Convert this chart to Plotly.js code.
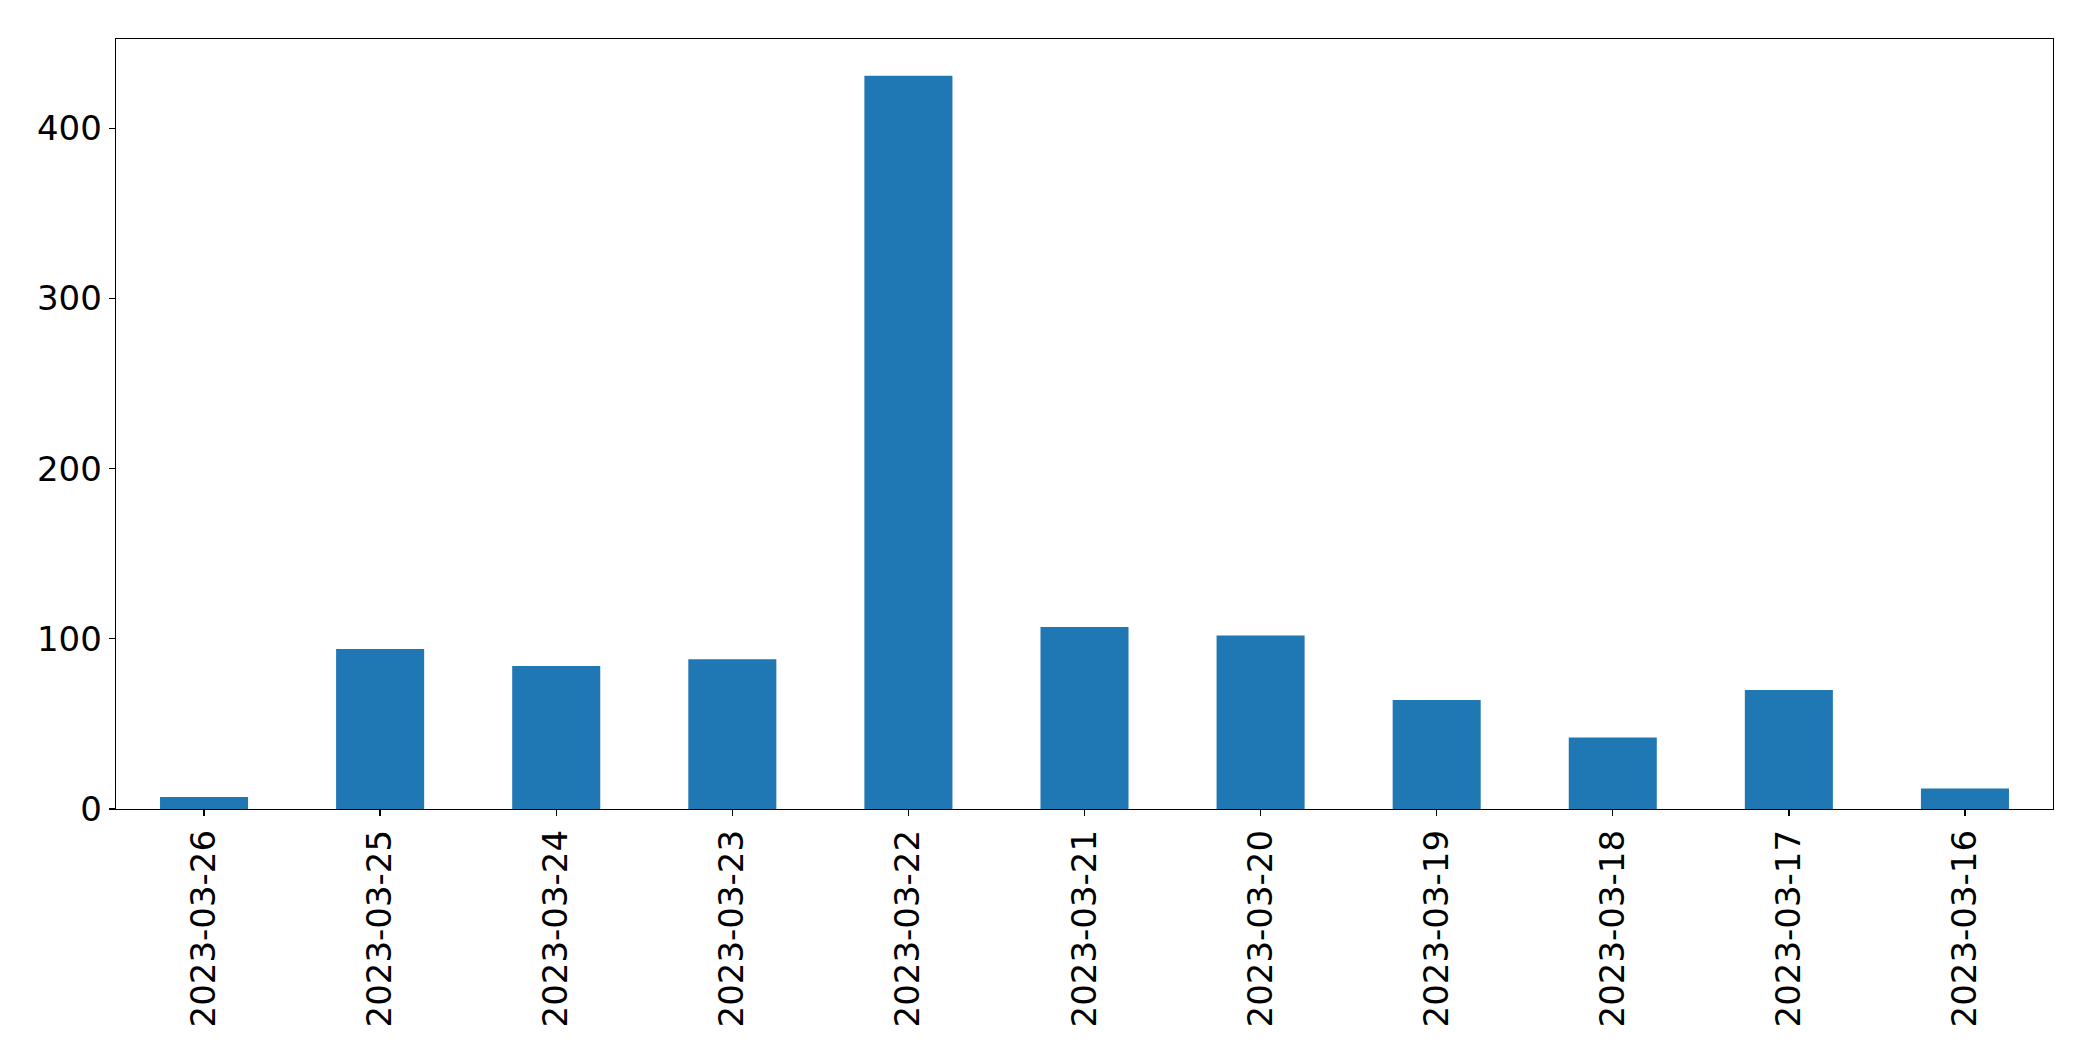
<!DOCTYPE html>
<html>
<head>
<meta charset="utf-8">
<script src="https://cdn.plot.ly/plotly-3.0.1.min.js"></script>
<style>html,body{margin:0;padding:0;background:#fff;}#chart{width:2093px;height:1061px;}</style>
</head>
<body>
<div id="chart"></div>
<script>
const dates = ["2023-03-26","2023-03-25","2023-03-24","2023-03-23","2023-03-22","2023-03-21","2023-03-20","2023-03-19","2023-03-18","2023-03-17","2023-03-16"];
const counts = [7, 94, 84, 88, 431, 107, 102, 64, 42, 70, 12];
const yTicks = [0, 100, 200, 300, 400];

const trace = {
  type: "bar",
  x: dates,
  y: counts,
  width: 0.5,
  marker: {color: "#1f77b4", line: {width: 0}},
  hoverinfo: "x+y"
};

const layout = {
  width: 2093,
  height: 1061,
  margin: {l: 116, r: 40, t: 39, b: 252, pad: 0},
  paper_bgcolor: "#ffffff",
  plot_bgcolor: "#ffffff",
  showlegend: false,
  font: {family: "DejaVu Sans", size: 34, color: "#000000"},
  xaxis: {
    type: "category",
    range: [-0.5, dates.length - 0.5],
    tickangle: -90,
    showline: true, mirror: true, linecolor: "#000000", linewidth: 1.3,
    showgrid: false, zeroline: false,
    ticks: "outside", ticklen: 6, tickwidth: 1.3, tickcolor: "#000000",
    ticklabelstandoff: 0,
    tickfont: {family: "DejaVu Sans", size: 34, color: "#000000"}
  },
  yaxis: {
    range: [0, 431 * 1.05],
    tickvals: yTicks,
    ticktext: yTicks.map(String),
    showline: true, mirror: true, linecolor: "#000000", linewidth: 1.3,
    showgrid: false, zeroline: false,
    ticks: "outside", ticklen: 6, tickwidth: 1.3, tickcolor: "#000000",
    tickfont: {family: "DejaVu Sans", size: 34, color: "#000000"}
  }
};

Plotly.newPlot("chart", [trace], layout, {displayModeBar: false, staticPlot: true});
</script>
</body>
</html>
